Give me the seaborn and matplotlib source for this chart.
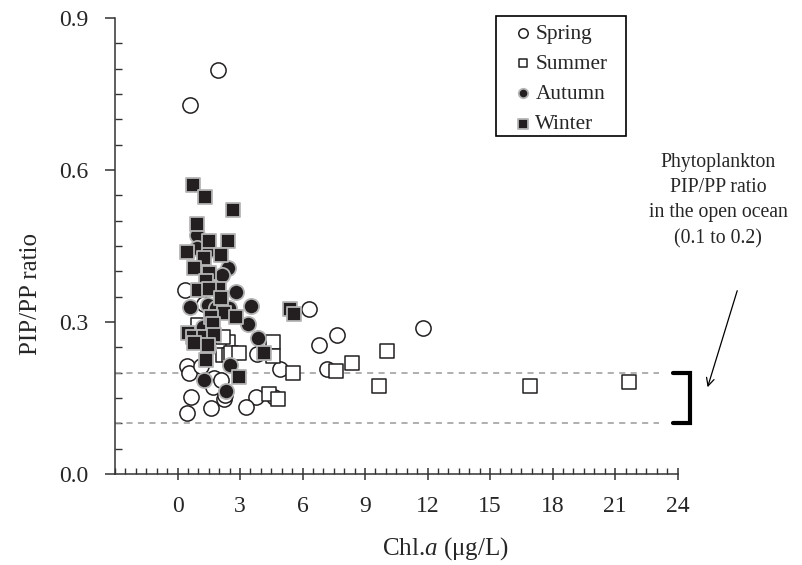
import numpy as np
import pandas as pd
import matplotlib
matplotlib.use("Agg")
import matplotlib.pyplot as plt
from matplotlib.ticker import MultipleLocator
from matplotlib.patches import Rectangle
import seaborn as sns

# ---------------- data ----------------
spring_x = [0.58, 1.93, 0.38, 1.29, 6.33, 7.65, 6.81, 11.76, 4.24, 3.81, 4.92, 7.18, 0.46,
            0.57, 1.13, 1.76, 1.69, 2.09, 2.24, 0.65, 1.61, 0.45, 3.76, 3.31, 4.64, 2.30]
spring_y = [0.728, 0.797, 0.363, 0.335, 0.325, 0.275, 0.255, 0.288, 0.248, 0.237, 0.207, 0.207, 0.213,
            0.199, 0.213, 0.189, 0.172, 0.186, 0.149, 0.151, 0.130, 0.120, 0.151, 0.132, 0.151, 0.155]

summer_x = [0.97, 2.41, 2.00, 2.17, 2.48, 2.56, 2.96, 4.56, 4.56, 5.53, 7.61, 8.39, 10.06,
            9.67, 4.40, 4.80, 16.91, 21.69, 2.20, 1.60]
summer_y = [0.294, 0.261, 0.261, 0.235, 0.235, 0.238, 0.238, 0.261, 0.233, 0.199, 0.203, 0.220, 0.243,
            0.174, 0.157, 0.149, 0.174, 0.182, 0.270, 0.280]

autumn_x = [0.93, 0.93, 1.51, 2.41, 2.13, 2.80, 0.58, 1.45, 1.85, 2.48, 1.21, 3.52, 3.36,
            3.87, 1.45, 2.53, 1.29, 2.33]
autumn_y = [0.472, 0.446, 0.442, 0.406, 0.393, 0.359, 0.330, 0.334, 0.327, 0.327, 0.291, 0.331, 0.296,
            0.268, 0.248, 0.215, 0.186, 0.163]

winter_x = [0.76, 1.32, 2.65, 0.93, 1.50, 2.41, 0.46, 2.09, 1.26, 0.81, 1.52, 1.37, 2.00, 1.00,
            1.52, 2.09, 2.24, 1.61, 1.69, 0.49, 0.73, 1.29, 1.76, 0.81, 1.45, 1.37, 2.96, 2.80,
            5.40, 5.58, 4.16]
winter_y = [0.570, 0.547, 0.521, 0.493, 0.460, 0.460, 0.439, 0.432, 0.426, 0.406, 0.396, 0.380, 0.366, 0.363,
            0.366, 0.347, 0.317, 0.310, 0.297, 0.278, 0.271, 0.271, 0.274, 0.258, 0.255, 0.225, 0.192, 0.310,
            0.325, 0.316, 0.239]

seasons = ["Spring", "Summer", "Autumn", "Winter"]
x_ticks = [0, 3, 6, 9, 12, 15, 18, 21, 24]
y_ticks = [0.0, 0.3, 0.6, 0.9]
band = [0.1, 0.2]

df = pd.concat([
    pd.DataFrame({"chl": spring_x, "ratio": spring_y, "season": "Spring"}),
    pd.DataFrame({"chl": summer_x, "ratio": summer_y, "season": "Summer"}),
    pd.DataFrame({"chl": autumn_x, "ratio": autumn_y, "season": "Autumn"}),
    pd.DataFrame({"chl": winter_x, "ratio": winter_y, "season": "Winter"}),
], ignore_index=True)

# ---------------- style ----------------
sns.set_style("ticks")
plt.rcParams["font.family"] = ["Liberation Serif", "DejaVu Serif"]
plt.rcParams["mathtext.fontset"] = "custom"
plt.rcParams["mathtext.rm"] = "Liberation Serif"
plt.rcParams["mathtext.it"] = "Liberation Serif:italic"

DARK = "#231f20"
styles = {
    "Spring": dict(marker="o", s=120, facecolor="white", edgecolor=DARK, linewidth=1.1),
    "Summer": dict(marker="s", s=105, facecolor="white", edgecolor=DARK, linewidth=1.1),
    "Autumn": dict(marker="o", s=120, facecolor=DARK, edgecolor="#b5b5b5", linewidth=1.3),
    "Winter": dict(marker="s", s=110, facecolor=DARK, edgecolor="#b5b5b5", linewidth=1.3),
}

W, H = 802, 565
fig = plt.figure(figsize=(W / 100, H / 100), dpi=100)
ax = fig.add_axes([115 / W, 1 - 474 / H, 562.6 / W, 456 / H])

for s in seasons:
    sub = df[df["season"] == s]
    st = styles[s]
    sns.scatterplot(data=sub, x="chl", y="ratio", ax=ax, marker=st["marker"], s=st["s"],
                    color=st["facecolor"], edgecolor=st["edgecolor"], linewidth=st["linewidth"],
                    label=s, zorder=3)

# reference band lines
for b in band:
    ax.plot([-3, 23.1], [b, b], color="#9a9a9a", linestyle=(0, (4, 3.5)), linewidth=1.1, zorder=1)

# bracket
ax.plot([23.8, 24.6, 24.6, 23.8], [band[1], band[1], band[0], band[0]], color="black",
        linewidth=3.0, solid_joinstyle="miter", clip_on=False, zorder=4)

# annotation text and arrow
ax.text(25.95, 0.540, "Phytoplankton\nPIP/PP ratio\nin the open ocean\n(0.1 to 0.2)",
        ha="center", va="center", fontsize=14.2, linespacing=1.45, clip_on=False)
ax.annotate("", xy=(25.4, 0.166), xytext=(26.9, 0.367),
            arrowprops=dict(arrowstyle="->", color="black", lw=0.9,
                            mutation_scale=14), annotation_clip=False)

# axes
ax.set_xlim(-3, 24)
ax.set_ylim(0, 0.9)
ax.set_xticks(x_ticks)
ax.set_xticklabels([str(t) for t in x_ticks])
ax.xaxis.set_minor_locator(MultipleLocator(0.5))
ax.set_yticks(y_ticks)
ax.set_yticklabels([f"{t:.1f}" for t in y_ticks])
ax.yaxis.set_minor_locator(MultipleLocator(0.05))

for side in ["top", "right"]:
    ax.spines[side].set_visible(False)
for side in ["left", "bottom"]:
    ax.spines[side].set_linewidth(1.1)
    ax.spines[side].set_color("#333333")

ax.tick_params(axis="x", which="major", direction="inout", length=9, width=1.1,
               color="#333333", labelsize=17, pad=11)
ax.tick_params(axis="x", which="minor", direction="in", length=4, width=1.0, color="#333333")
ax.tick_params(axis="y", which="major", direction="out", length=7, width=1.1,
               color="#333333", labelsize=17, pad=12)
ax.tick_params(axis="y", which="minor", direction="in", length=5, width=1.0, color="#333333")

ax.set_xlabel("Chl.$\\mathit{a}$ (\u03bcg/L)", fontsize=18)
ax.set_ylabel("PIP/PP ratio", fontsize=18)
ax.xaxis.set_label_coords((445 - 115) / 562.6, (474 - 549) / 456)
ax.xaxis.label.set_va("center")
ax.yaxis.set_label_coords((31 - 115) / 562.6, (474 - 294) / 456)
ax.yaxis.label.set_va("center")

# legend (frame drawn separately to get the wider horizontal padding)
leg = ax.legend(loc="upper left", bbox_to_anchor=((513 - 115) / 562.6, (474 - 24) / 456),
                frameon=False, fontsize=15.3, markerscale=0.62, handlelength=0.9, handletextpad=0.15,
                labelspacing=0.48, borderpad=0.0, borderaxespad=0)
fig.add_artist(Rectangle((496 / W, 1 - 136 / H), 130 / W, 120 / H, transform=fig.transFigure,
                         facecolor="none", edgecolor="black", linewidth=1.2, zorder=5))

fig.savefig("out.png", dpi=100)
